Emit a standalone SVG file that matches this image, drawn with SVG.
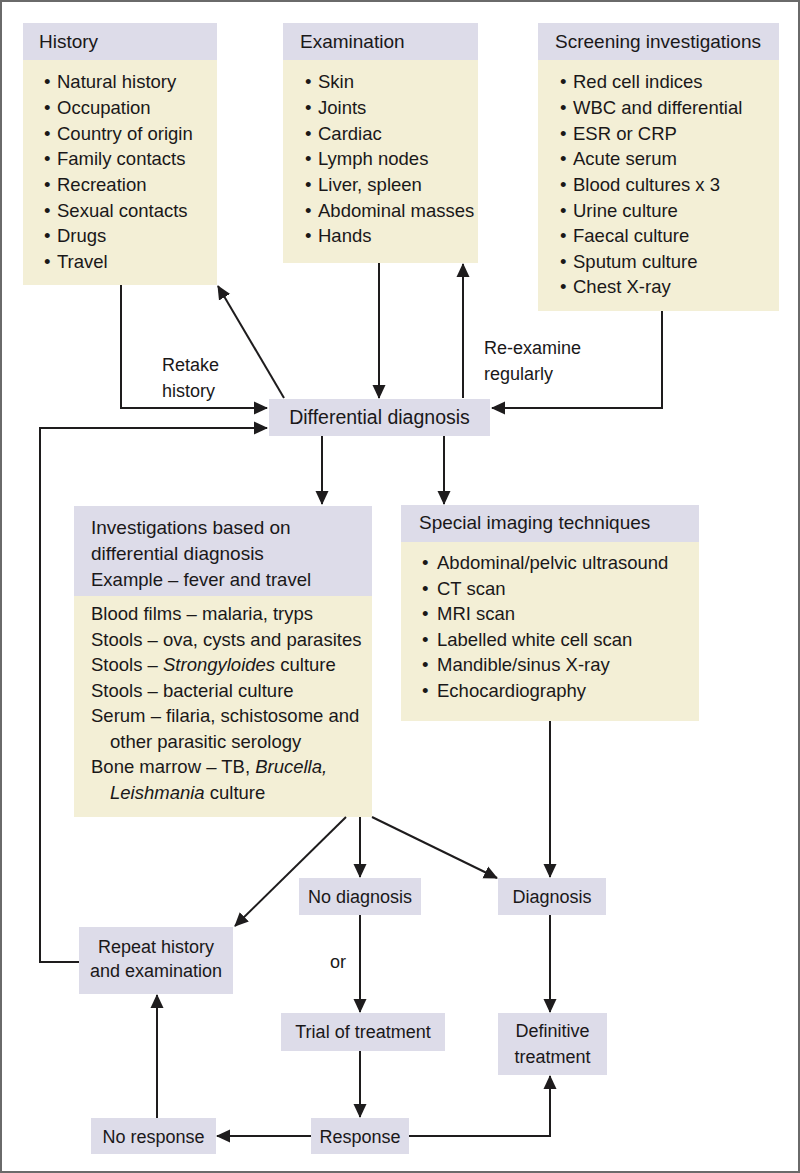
<svg xmlns="http://www.w3.org/2000/svg" width="800" height="1173" viewBox="0 0 800 1173">
<style>
text{font-family:"Liberation Sans",Arial,sans-serif;fill:#1a1819;}
.t{font-size:18.5px;}
.h{font-size:19px;}
.s{font-size:18px;}
.c{text-anchor:middle;}
.hd{fill:#dddce9;}
.bd{fill:#f3efd6;}
.ln{fill:none;stroke:#1e1c1d;stroke-width:2;marker-end:url(#ah);}
</style>
<defs>
<marker id="ah" viewBox="0 0 14 14" refX="13" refY="7" markerWidth="14" markerHeight="14" markerUnits="userSpaceOnUse" orient="auto">
<path d="M0,0.5 L14,7 L0,13.5 z" fill="#1e1c1d"/>
</marker>
</defs>
<rect x="1" y="1" width="798" height="1171" fill="#ffffff" stroke="#6a6a6a" stroke-width="2"/>

<g id="history">
<rect class="hd" x="23" y="23" width="194" height="37"/>
<rect class="bd" x="23" y="60" width="194" height="225"/>
<text class="h" x="39" y="48">History</text>
<text class="t">
<tspan x="44" y="88">•</tspan><tspan x="57">Natural history</tspan>
<tspan x="44" y="114">•</tspan><tspan x="57">Occupation</tspan>
<tspan x="44" y="139.5">•</tspan><tspan x="57">Country of origin</tspan>
<tspan x="44" y="165">•</tspan><tspan x="57">Family contacts</tspan>
<tspan x="44" y="191">•</tspan><tspan x="57">Recreation</tspan>
<tspan x="44" y="216.5">•</tspan><tspan x="57">Sexual contacts</tspan>
<tspan x="44" y="242">•</tspan><tspan x="57">Drugs</tspan>
<tspan x="44" y="267.5">•</tspan><tspan x="57">Travel</tspan>
</text>
</g>

<g id="examination">
<rect class="hd" x="283" y="23" width="195" height="37"/>
<rect class="bd" x="283" y="60" width="195" height="203"/>
<text class="h" x="300" y="48">Examination</text>
<text class="t">
<tspan x="305" y="88">•</tspan><tspan x="318">Skin</tspan>
<tspan x="305" y="114">•</tspan><tspan x="318">Joints</tspan>
<tspan x="305" y="139.5">•</tspan><tspan x="318">Cardiac</tspan>
<tspan x="305" y="165">•</tspan><tspan x="318">Lymph nodes</tspan>
<tspan x="305" y="191">•</tspan><tspan x="318">Liver, spleen</tspan>
<tspan x="305" y="216.5">•</tspan><tspan x="318">Abdominal masses</tspan>
<tspan x="305" y="242">•</tspan><tspan x="318">Hands</tspan>
</text>
</g>

<g id="screening">
<rect class="hd" x="538" y="23" width="241" height="37"/>
<rect class="bd" x="538" y="60" width="241" height="251"/>
<text class="h" x="555" y="48">Screening investigations</text>
<text class="t">
<tspan x="560" y="88">•</tspan><tspan x="573">Red cell indices</tspan>
<tspan x="560" y="114">•</tspan><tspan x="573">WBC and differential</tspan>
<tspan x="560" y="139.5">•</tspan><tspan x="573">ESR or CRP</tspan>
<tspan x="560" y="165">•</tspan><tspan x="573">Acute serum</tspan>
<tspan x="560" y="191">•</tspan><tspan x="573">Blood cultures x 3</tspan>
<tspan x="560" y="216.5">•</tspan><tspan x="573">Urine culture</tspan>
<tspan x="560" y="242">•</tspan><tspan x="573">Faecal culture</tspan>
<tspan x="560" y="267.5">•</tspan><tspan x="573">Sputum culture</tspan>
<tspan x="560" y="293">•</tspan><tspan x="573">Chest X-ray</tspan>
</text>
</g>

<g id="differential">
<rect class="hd" x="269" y="399" width="221" height="37"/>
<text class="c" x="379.5" y="424" style="font-size:19.5px">Differential diagnosis</text>
</g>

<g id="investigations">
<rect class="hd" x="74" y="506" width="298" height="90"/>
<rect class="bd" x="74" y="596" width="298" height="221"/>
<text class="h">
<tspan x="91" y="534">Investigations based on</tspan>
<tspan x="91" y="560">differential diagnosis</tspan>
</text>
<text class="t" x="91" y="586">Example – fever and travel</text>
<text class="t">
<tspan x="91" y="620">Blood films – malaria, tryps</tspan>
<tspan x="91" y="645.5">Stools – ova, cysts and parasites</tspan>
<tspan x="91" y="671">Stools – <tspan font-style="italic">Strongyloides</tspan> culture</tspan>
<tspan x="91" y="696.5">Stools – bacterial culture</tspan>
<tspan x="91" y="722">Serum – filaria, schistosome and</tspan>
<tspan x="110" y="747.5">other parasitic serology</tspan>
<tspan x="91" y="773">Bone marrow – TB, <tspan font-style="italic">Brucella,</tspan></tspan>
<tspan x="110" y="798.5" font-style="italic">Leishmania</tspan><tspan> culture</tspan>
</text>
</g>

<g id="imaging">
<rect class="hd" x="401" y="505" width="298" height="37"/>
<rect class="bd" x="401" y="542" width="298" height="179"/>
<text class="h" x="419" y="529">Special imaging techniques</text>
<text class="t">
<tspan x="422" y="569">•</tspan><tspan x="437">Abdominal/pelvic ultrasound</tspan>
<tspan x="422" y="594.5">•</tspan><tspan x="437">CT scan</tspan>
<tspan x="422" y="620">•</tspan><tspan x="437">MRI scan</tspan>
<tspan x="422" y="645.5">•</tspan><tspan x="437">Labelled white cell scan</tspan>
<tspan x="422" y="671">•</tspan><tspan x="437">Mandible/sinus X-ray</tspan>
<tspan x="422" y="696.5">•</tspan><tspan x="437">Echocardiography</tspan>
</text>
</g>

<g id="nodiagnosis">
<rect class="hd" x="299" y="878" width="122" height="37"/>
<text class="s c" x="360" y="903">No diagnosis</text>
</g>
<g id="diagnosis">
<rect class="hd" x="498" y="878" width="108" height="37"/>
<text class="s c" x="552" y="903">Diagnosis</text>
</g>
<g id="repeat">
<rect class="hd" x="79" y="927" width="154" height="67"/>
<text class="s c"><tspan x="156" y="953">Repeat history</tspan><tspan x="156" y="977">and examination</tspan></text>
</g>
<g id="trial">
<rect class="hd" x="281" y="1013" width="164" height="38"/>
<text class="s c" x="363" y="1038">Trial of treatment</text>
</g>
<g id="definitive">
<rect class="hd" x="498" y="1013" width="109" height="62"/>
<text class="s c"><tspan x="552.5" y="1037">Definitive</tspan><tspan x="552.5" y="1063">treatment</tspan></text>
</g>
<g id="noresponse">
<rect class="hd" x="91" y="1118" width="125" height="36"/>
<text class="s c" x="153.5" y="1143">No response</text>
</g>
<g id="response">
<rect class="hd" x="311" y="1118" width="98" height="36"/>
<text class="s c" x="360" y="1143">Response</text>
</g>

<g id="connectors">
<polyline class="ln" points="121,285 121,408 267,408"/>
<line class="ln" x1="284" y1="398" x2="218" y2="286"/>
<line class="ln" x1="379" y1="263" x2="379" y2="398"/>
<line class="ln" x1="463" y1="398" x2="463" y2="264"/>
<polyline class="ln" points="662,311 662,408 492,408"/>
<polyline class="ln" points="79,962 40,962 40,428 267,428"/>
<line class="ln" x1="322" y1="436" x2="322" y2="504"/>
<line class="ln" x1="444" y1="436" x2="444" y2="504"/>
<line class="ln" x1="346" y1="817" x2="235" y2="926"/>
<line class="ln" x1="360" y1="817" x2="360" y2="877"/>
<line class="ln" x1="372" y1="817" x2="497" y2="878"/>
<line class="ln" x1="550" y1="721" x2="550" y2="877"/>
<line class="ln" x1="360" y1="915" x2="360" y2="1012"/>
<line class="ln" x1="550" y1="915" x2="550" y2="1012"/>
<line class="ln" x1="360" y1="1051" x2="360" y2="1117"/>
<line class="ln" x1="311" y1="1136" x2="217" y2="1136"/>
<line class="ln" x1="157" y1="1118" x2="157" y2="995"/>
<polyline class="ln" points="409,1136 550,1136 550,1076"/>
</g>

<g id="labels">
<text class="s"><tspan x="162" y="371">Retake</tspan><tspan x="162" y="397">history</tspan></text>
<text class="s"><tspan x="484" y="354">Re-examine</tspan><tspan x="484" y="380">regularly</tspan></text>
<text class="s" x="330" y="968">or</text>
</g>
</svg>
